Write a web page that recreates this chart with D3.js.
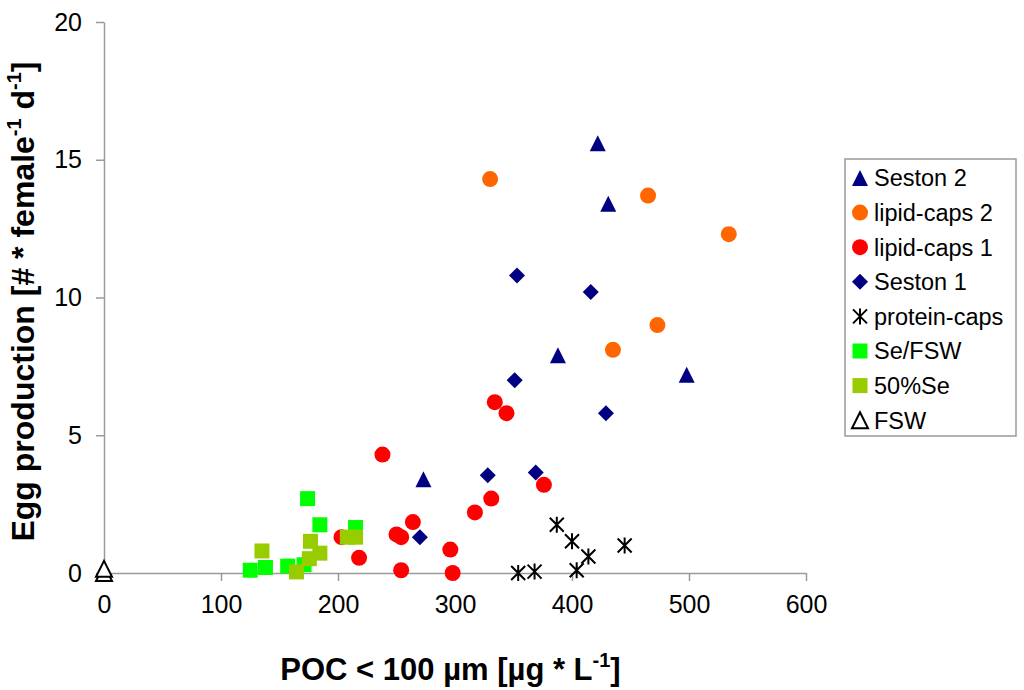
<!DOCTYPE html>
<html>
<head>
<meta charset="utf-8">
<script src="https://cdn.jsdelivr.net/npm/d3@7"></script>
<style>
  body { margin: 0; background: #fff; }
  text { font-family: "Liberation Sans", Arial, sans-serif; }
</style>
</head>
<body>
<svg id="chart"></svg>
<script>
// series values: [POC, eggs]
let seston2 = [[422, 15.6], [431, 13.4], [388, 7.9], [498, 7.2], [273, 3.4]];
let lipid2 = [[330, 14.3], [465, 13.7], [534, 12.3], [473, 9.0], [435, 8.1]];
let lipid1 = [[238, 4.3], [334, 6.2], [344, 5.8], [376, 3.2], [331, 2.7], [317, 2.2],
    [264, 1.85], [250, 1.4], [254, 1.3], [296, 0.85], [254, 0.1], [298, 0.0],
    [218, 0.55], [203, 1.3]];
let seston1 = [[353, 10.8], [416, 10.2], [351, 7.0], [429, 5.8], [328, 3.55], [369, 3.65], [270, 1.3]];
let protein = [[387, 1.75], [400, 1.15], [414, 0.6], [445, 1.0], [354, 0.0], [368, 0.05], [404, 0.1]];
let seFsw = [[174, 2.7], [184.5, 1.75], [215, 1.65], [125, 0.1], [138, 0.2], [157, 0.25], [171, 0.3]];
let half = [[135, 0.8], [176.5, 1.15], [184.5, 0.72], [175.5, 0.52], [164.5, 0.04], [208, 1.3], [215, 1.3]];
let fsw = [[0, 0.0], [0, 0.15]];

let xTicks = [0, 100, 200, 300, 400, 500, 600];
let yTicks = [0, 5, 10, 15, 20];

let series = [
    {name: 'Seston 2', shape: 'triangle', color: '#000080', data: seston2},
    {name: 'lipid-caps 2', shape: 'circle', color: '#FF6600', data: lipid2},
    {name: 'lipid-caps 1', shape: 'circle', color: '#FF0000', data: lipid1},
    {name: 'Seston 1', shape: 'diamond', color: '#000080', data: seston1},
    {name: 'protein-caps', shape: 'star', color: '#000000', data: protein},
    {name: 'Se/FSW', shape: 'square', color: '#00FF00', data: seFsw},
    {name: '50%Se', shape: 'square', color: '#99CC00', data: half},
    {name: 'FSW', shape: 'opentriangle', color: '#000000', data: fsw}
];

let width = 1024, height = 690;
let margin = {top: 22, left: 104, right: 218, bot: 117};

let svg = d3.select('#chart')
    .attr('width', width)
    .attr('height', height);

let xScale = d3.scaleLinear()
    .domain([0, 600])
    .range([margin.left, width - margin.right]);
let yScale = d3.scaleLinear()
    .domain([0, 20])
    .range([height - margin.bot, margin.top]);

// axes
let xAx = svg.append('g')
    .attr('transform', `translate(0,${height - margin.bot})`)
    .call(d3.axisBottom(xScale).tickValues(xTicks).tickSize(8).tickPadding(14).tickSizeOuter(0));
let yAx = svg.append('g')
    .attr('transform', `translate(${margin.left},0)`)
    .call(d3.axisLeft(yScale).tickValues(yTicks).tickSize(8).tickPadding(14).tickSizeOuter(0));
[xAx, yAx].forEach(g => {
    g.select('.domain').attr('stroke', '#9a9a9a').attr('stroke-width', 1.5);
    g.selectAll('.tick line').attr('stroke', '#9a9a9a').attr('stroke-width', 1.5);
    g.selectAll('.tick text')
        .attr('fill', '#000')
        .style('font-family', '"Liberation Sans", Arial, sans-serif')
        .style('font-size', '25px');
});

function markerPath(shape) {
    switch (shape) {
        case 'triangle':
        case 'opentriangle':
            return 'M0,-8 L8,8 L-8,8 Z';
        case 'diamond':
            return 'M0,-8 L8,0 L0,8 L-8,0 Z';
        case 'square':
            return 'M-7.5,-7.5 H7.5 V7.5 H-7.5 Z';
        case 'star':
            return 'M0,-8 V8 M-7,-7 L7,7 M-7,7 L7,-7';
        default:
            return null;
    }
}

function drawMarker(g, s) {
    if (s.shape === 'circle') {
        g.append('circle').attr('r', 8).attr('fill', s.color);
    } else if (s.shape === 'star') {
        g.append('path').attr('d', markerPath(s.shape))
            .attr('fill', 'none').attr('stroke', s.color).attr('stroke-width', 2);
    } else if (s.shape === 'opentriangle') {
        g.append('path').attr('d', markerPath(s.shape))
            .attr('fill', '#fff').attr('stroke', s.color).attr('stroke-width', 2);
    } else {
        g.append('path').attr('d', markerPath(s.shape)).attr('fill', s.color);
    }
}

// points, later series drawn on top (as in the original)
let plot = svg.append('g');
series.forEach(s => {
    plot.append('g')
        .selectAll('g')
        .data(s.data)
        .join('g')
        .attr('transform', d => `translate(${xScale(d[0])},${yScale(d[1])})`)
        .each(function () { drawMarker(d3.select(this), s); });
});

// axis titles
let xTitle = svg.append('text')
    .attr('x', 450.5)
    .attr('y', 680)
    .attr('text-anchor', 'middle')
    .style('font-size', '31px')
    .style('font-weight', 'bold');
xTitle.append('tspan').text('POC < 100 µm [µg * L');
xTitle.append('tspan').attr('dy', -13).style('font-size', '20px').text('-1');
xTitle.append('tspan').attr('dy', 13).text(']');

let yTitle = svg.append('text')
    .attr('transform', `translate(34,301.5) rotate(-90)`)
    .attr('text-anchor', 'middle')
    .style('font-size', '32px')
    .style('font-weight', 'bold');
yTitle.append('tspan').text('Egg production [# * female');
yTitle.append('tspan').attr('dy', -13).style('font-size', '20px').text('-1');
yTitle.append('tspan').attr('dy', 13).text(' d');
yTitle.append('tspan').attr('dy', -13).style('font-size', '20px').text('-1');
yTitle.append('tspan').attr('dy', 13).text(']');

// legend
let legend = svg.append('g').attr('transform', 'translate(845,159)');
legend.append('rect')
    .attr('width', 171)
    .attr('height', 277)
    .attr('fill', '#fff')
    .attr('stroke', '#9a9a9a')
    .attr('stroke-width', 1.5);
let rows = legend.selectAll('g.row')
    .data(series)
    .join('g')
    .attr('class', 'row')
    .attr('transform', (d, i) => `translate(15,${19 + i * 34.6})`);
rows.each(function (s) { drawMarker(d3.select(this), s); });
rows.append('text')
    .attr('x', 14)
    .attr('dy', '0.36em')
    .style('font-size', '23.5px')
    .text(d => d.name);
</script>
</body>
</html>
